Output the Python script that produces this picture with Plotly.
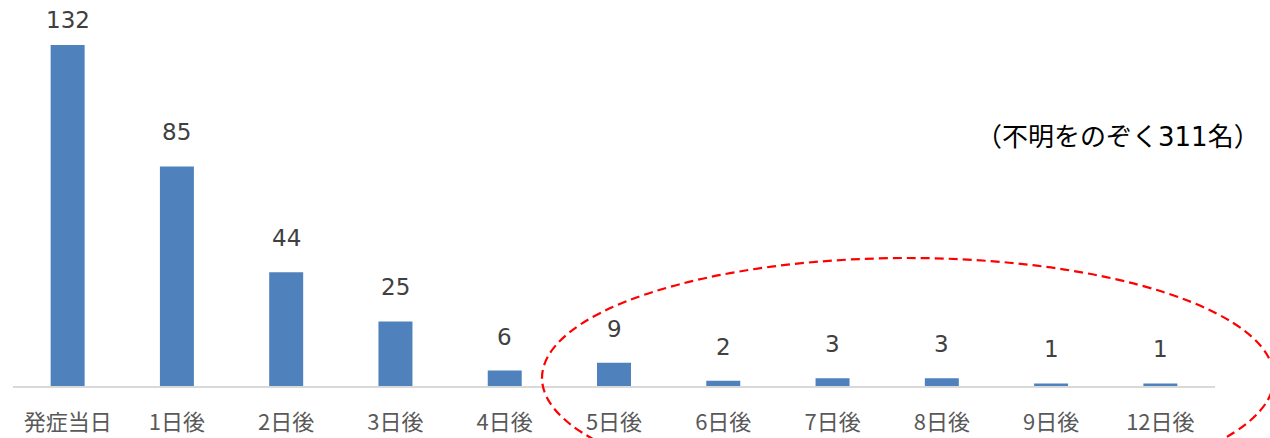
import plotly.graph_objects as go

categories = ["発症当日", "1日後", "2日後", "3日後", "4日後", "5日後", "6日後", "7日後", "8日後", "9日後", "12日後"]
values = [132, 85, 44, 25, 6, 9, 2, 3, 3, 1, 1]
note_text = "（不明をのぞく311名）"

W, H = 1270, 438
ML, MR, MT, MB = 13, 55, 0, 52
plot_h = H - MT - MB
plot_w = W - ML - MR
ymax = 149.4
ppu = plot_h / ymax

fig = go.Figure()
fig.add_trace(go.Bar(
    x=categories, y=values,
    marker=dict(color="#4F81BD", line=dict(width=0)),
    hoverinfo="x+y",
))

FONT = "DejaVu Sans, Noto Sans CJK JP, sans-serif"
label_max = (plot_h - 20) / ppu
for c, v in zip(categories, values):
    ylab = min(v + 34 / ppu, label_max)
    fig.add_annotation(x=c, y=ylab, xref="x", yref="y", text=str(v), showarrow=False,
                       yanchor="middle", font=dict(size=23, color="#404040", family=FONT))

fig.add_annotation(x=(1262 - ML) / plot_w, y=(MT + plot_h - 137) / plot_h,
                   xref="paper", yref="paper", text=note_text, showarrow=False,
                   xanchor="right", yanchor="middle",
                   font=dict(size=26, color="#000000", family=FONT))

# red dashed ellipse (paper coords)
ex0, ex1, ey_top, ey_bot = 542, 1274, 258, 498
fig.add_shape(type="circle", xref="paper", yref="paper",
              x0=(ex0 - ML) / plot_w, x1=(ex1 - ML) / plot_w,
              y0=(MT + plot_h - ey_bot) / plot_h, y1=(MT + plot_h - ey_top) / plot_h,
              line=dict(color="#FF0000", width=2.2, dash="9px,5px"))

fig.update_layout(
    width=W, height=H,
    margin=dict(l=ML, r=MR, t=MT, b=MB),
    paper_bgcolor="white", plot_bgcolor="white",
    bargap=0.689,
    showlegend=False,
    font=dict(family=FONT),
    xaxis=dict(showgrid=False, showline=True, linecolor="#D9D9D9", linewidth=2,
               ticks="", tickfont=dict(size=22, color="#595959", family="Noto Sans CJK JP, DejaVu Sans"),
               ticklabelstandoff=16, automargin=False, fixedrange=True),
    yaxis=dict(range=[0, ymax], visible=False, automargin=False, fixedrange=True),
)

fig.write_html("out.html")
